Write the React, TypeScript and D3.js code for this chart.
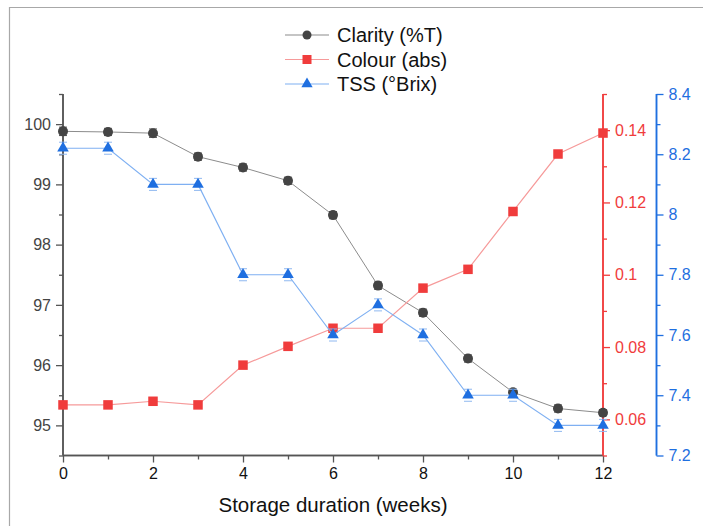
import React, { useEffect, useRef } from "react";
import * as d3 from "d3";

const weeks = [0, 1, 2, 3, 4, 5, 6, 7, 8, 9, 10, 11, 12];
const clarity = [99.88, 99.87, 99.85, 99.46, 99.28, 99.06, 98.49, 97.32, 96.87, 96.11, 95.55, 95.28, 95.21];
const clarityErr = [0.07, 0.06, 0.07, 0.06, 0.06, 0.06, 0.06, 0.06, 0.06, 0.06, 0.05, 0.06, 0.05];
const colour = [0.064, 0.064, 0.065, 0.064, 0.075, 0.0802, 0.0852, 0.0852, 0.0963, 0.1015, 0.1175, 0.1334, 0.1392];
const tss = [8.22, 8.22, 8.1, 8.1, 7.8, 7.8, 7.6, 7.7, 7.6, 7.4, 7.4, 7.3, 7.3];
const tssErr = [0.01, 0.01, 0.01, 0.01, 0.01, 0.01, 0.01, 0.01, 0.01, 0.01, 0.01, 0.01, 0.01];

const xTicks = [0, 2, 4, 6, 8, 10, 12];
const leftTicks = [95, 96, 97, 98, 99, 100];
const redTicks = [0.06, 0.08, 0.1, 0.12, 0.14];
const blueTicks = [7.2, 7.4, 7.6, 7.8, 8, 8.2, 8.4];

const legendItems = ["Clarity (%T)", "Colour (abs)", "TSS (°Brix)"];

const W = 703;
const H = 526;
const FONT = "Arial, 'Liberation Sans', sans-serif";

const DualChart = () => {
  const svgRef = useRef(null);

  useEffect(() => {
    const svg = d3.select(svgRef.current);
    svg.selectAll("*").remove();

    const left = 63, right = 603, top = 94, bottom = 455.5;
    const blueX = 656.5;

    const x = d3.scaleLinear().domain([0, 12]).range([left, right]);
    const yL = d3.scaleLinear().domain([94.5, 100.5]).range([bottom, top]);
    const yR = d3.scaleLinear().domain([0.05, 0.15]).range([bottom, top]);
    const yB = d3.scaleLinear().domain([7.2, 8.4]).range([bottom, top]);

    const axisGrey = "#555";
    const red = "#f03c3c";
    const redLine = "#f69a9a";
    const blue = "#1f6fe0";
    const blueLine = "#7fb0f2";
    const darkMark = "#444";
    const greyLine = "#8c8c8c";

    // outer frame (crop of a larger figure)
    svg.append("path")
      .attr("d", `M9.5,${H} L9.5,7.5 L${W},7.5`)
      .attr("fill", "none")
      .attr("stroke", "#a8a8a8")
      .attr("stroke-width", 1.2);

    // bottom axis
    const xAxis = svg.append("g").attr("transform", `translate(0,${bottom})`);
    xAxis.call(
      d3.axisBottom(x).tickValues(xTicks).tickSize(7).tickPadding(5).tickFormat(d3.format("d"))
    );
    xAxis.append("g").call(
      d3.axisBottom(x).tickValues(d3.range(1, 12, 2)).tickSize(4).tickFormat(() => "")
    );
    xAxis.selectAll(".domain").attr("stroke", axisGrey).attr("stroke-width", 1.5);
    xAxis.selectAll("line").attr("stroke", axisGrey).attr("stroke-width", 1.3);
    xAxis.selectAll("text").attr("fill", "#111").style("font", `16px ${FONT}`);
    xAxis.selectAll(".domain").attr("d", `M${left},0H${right}`);

    // left axis
    const lAxis = svg.append("g").attr("transform", `translate(${left},0)`);
    lAxis.call(d3.axisLeft(yL).tickValues(leftTicks).tickSize(7).tickPadding(5).tickFormat(d3.format("d")));
    lAxis.append("g").call(
      d3.axisLeft(yL).tickValues([94.5, 95.5, 96.5, 97.5, 98.5, 99.5, 100.5]).tickSize(4).tickFormat(() => "")
    );
    lAxis.selectAll(".domain").attr("stroke", axisGrey).attr("stroke-width", 1.5);
    lAxis.selectAll("line").attr("stroke", axisGrey).attr("stroke-width", 1.3);
    lAxis.selectAll("text").attr("fill", "#444").style("font", `16px ${FONT}`);
    lAxis.selectAll(".domain").attr("d", `M0,${top}V${bottom}`);

    // red axis
    const rAxis = svg.append("g").attr("transform", `translate(${right},0)`);
    rAxis.call(d3.axisRight(yR).tickValues(redTicks).tickSize(7).tickPadding(5).tickFormat((d) => String(d)));
    rAxis.append("g").call(
      d3.axisRight(yR).tickValues([0.05, 0.07, 0.09, 0.11, 0.13, 0.15]).tickSize(4).tickFormat(() => "")
    );
    rAxis.selectAll(".domain").attr("stroke", red).attr("stroke-width", 1.5).attr("d", `M0,${top}V${bottom}`);
    rAxis.selectAll("line").attr("stroke", red).attr("stroke-width", 1.3);
    rAxis.selectAll("text").attr("fill", red).style("font", `16px ${FONT}`);

    // blue axis
    const bAxis = svg.append("g").attr("transform", `translate(${blueX},0)`);
    bAxis.call(d3.axisRight(yB).tickValues(blueTicks).tickSize(7).tickPadding(5).tickFormat((d) => String(d)));
    bAxis.append("g").call(
      d3.axisRight(yB).tickValues([7.3, 7.5, 7.7, 7.9, 8.1, 8.3]).tickSize(4).tickFormat(() => "")
    );
    bAxis.selectAll(".domain").attr("stroke", blue).attr("stroke-width", 1.5).attr("d", `M0,${top}V${bottom}`);
    bAxis.selectAll("line").attr("stroke", blue).attr("stroke-width", 1.3);
    bAxis.selectAll("text").attr("fill", blue).style("font", `16px ${FONT}`);

    // x label
    svg.append("text")
      .attr("x", 333)
      .attr("y", 512)
      .attr("text-anchor", "middle")
      .attr("fill", "#111")
      .style("font", `20.5px ${FONT}`)
      .text("Storage duration (weeks)");

    const idx = weeks.map((_, i) => i);
    const triangle = d3.symbol().type(d3.symbolTriangle).size(58);

    // clarity
    svg.append("path")
      .datum(idx)
      .attr("fill", "none")
      .attr("stroke", greyLine)
      .attr("stroke-width", 1)
      .attr("d", d3.line<number>().x((i) => x(weeks[i])).y((i) => yL(clarity[i])));
    const ce = svg.append("g").attr("stroke", "#555").attr("stroke-width", 1);
    idx.forEach((i) => {
      const cx = x(weeks[i]);
      const y1 = yL(clarity[i] + clarityErr[i]);
      const y2 = yL(clarity[i] - clarityErr[i]);
      ce.append("line").attr("x1", cx).attr("x2", cx).attr("y1", y1).attr("y2", y2);
      ce.append("line").attr("x1", cx - 4).attr("x2", cx + 4).attr("y1", y1).attr("y2", y1);
      ce.append("line").attr("x1", cx - 4).attr("x2", cx + 4).attr("y1", y2).attr("y2", y2);
    });
    svg.append("g").selectAll("circle").data(idx).join("circle")
      .attr("cx", (i) => x(weeks[i]))
      .attr("cy", (i) => yL(clarity[i]))
      .attr("r", 5)
      .attr("fill", darkMark);

    // colour
    svg.append("path")
      .datum(idx)
      .attr("fill", "none")
      .attr("stroke", redLine)
      .attr("stroke-width", 1.2)
      .attr("d", d3.line<number>().x((i) => x(weeks[i])).y((i) => yR(colour[i])));
    svg.append("g").selectAll("rect").data(idx).join("rect")
      .attr("x", (i) => x(weeks[i]) - 4.75)
      .attr("y", (i) => yR(colour[i]) - 4.75)
      .attr("width", 9.5)
      .attr("height", 9.5)
      .attr("fill", red);

    // tss
    svg.append("path")
      .datum(idx)
      .attr("fill", "none")
      .attr("stroke", blueLine)
      .attr("stroke-width", 1.2)
      .attr("d", d3.line<number>().x((i) => x(weeks[i])).y((i) => yB(tss[i])));
    const te = svg.append("g").attr("stroke", "#8fb8f0").attr("stroke-width", 1);
    idx.forEach((i) => {
      const cx = x(weeks[i]);
      const y1 = yB(tss[i] + tssErr[i]) - 3;
      const y2 = yB(tss[i] - tssErr[i]) + 3;
      te.append("line").attr("x1", cx - 4).attr("x2", cx + 4).attr("y1", y1).attr("y2", y1);
      te.append("line").attr("x1", cx - 4).attr("x2", cx + 4).attr("y1", y2).attr("y2", y2);
    });
    svg.append("g").selectAll("path").data(idx).join("path")
      .attr("transform", (i) => `translate(${x(weeks[i])},${yB(tss[i])})`)
      .attr("d", triangle)
      .attr("fill", blue);

    // legend
    const lg = svg.append("g");
    const lColors = [greyLine, redLine, blueLine];
    const mColors = [darkMark, red, blue];
    legendItems.forEach((label, k) => {
      const ly = 35 + k * 24.5;
      lg.append("line").attr("x1", 285).attr("x2", 329).attr("y1", ly).attr("y2", ly)
        .attr("stroke", lColors[k]).attr("stroke-width", 1.2);
      if (k === 0) lg.append("circle").attr("cx", 307).attr("cy", ly).attr("r", 4.5).attr("fill", mColors[k]);
      if (k === 1) lg.append("rect").attr("x", 302.5).attr("y", ly - 4.5).attr("width", 9).attr("height", 9).attr("fill", mColors[k]);
      if (k === 2) lg.append("path").attr("transform", `translate(307,${ly})`).attr("d", d3.symbol().type(d3.symbolTriangle).size(55)()).attr("fill", mColors[k]);
      lg.append("text").attr("x", 337).attr("y", ly + 7).attr("fill", "#111")
        .style("font", `20px ${FONT}`).text(label);
    });
  }, []);

  return (
    <svg
      ref={svgRef}
      width={W}
      height={H}
      style={{ position: "absolute", left: 0, top: 0, background: "#fff", display: "block" }}
    ></svg>
  );
};

export default function App() {
  return <DualChart />;
}
